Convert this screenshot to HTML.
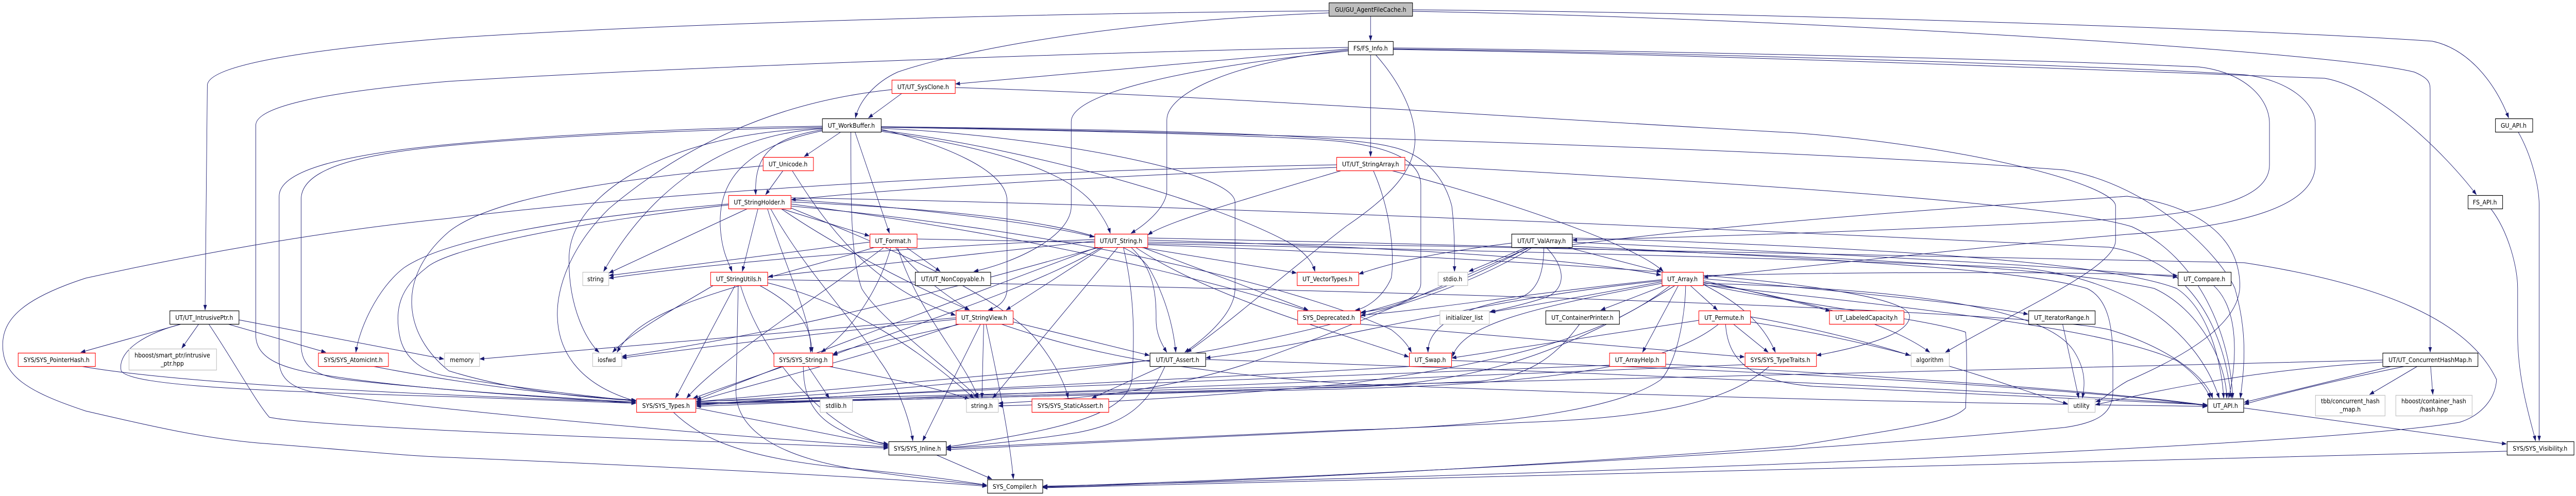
<!DOCTYPE html>
<html><head><meta charset="utf-8"><style>
html,body{margin:0;padding:0;background:#fff;width:100%;height:100%;overflow:hidden;}
svg{display:block;position:absolute;left:0;top:0;width:100vw;height:100vh;}
text{font-family:"DejaVu Sans","Liberation Sans",sans-serif;font-size:12.7px;fill:#000;text-anchor:middle;}
</style></head><body>
<svg viewBox="0 0 5740 963" preserveAspectRatio="none" xmlns="http://www.w3.org/2000/svg">
<defs><marker id="a" markerWidth="11" markerHeight="8" refX="10" refY="3.6" orient="auto" markerUnits="userSpaceOnUse"><path d="M0,0 L10,3.6 L0,7.2 z" fill="#191970" stroke="#191970" stroke-width="0.5"/></marker></defs>
<rect width="5740" height="963" fill="#fff"/>
<g fill="none" stroke="#191970" stroke-width="1" marker-end="url(#a)">
<path d="M3054,31 L3054,79"/>
<path d="M2961,21 C2300,26 1500,45 1000,74 C700,95 462,125 462,166 L457,602"/>
<path d="M2961,25 C2400,45 2100,110 2000,140 C1950,160 1915,195 1906,229"/>
<path d="M3147,19 C4000,25 5100,60 5420,80 C5500,95 5560,160 5590,229"/>
<path d="M3147,22 C4000,35 5200,100 5380,140 C5412,152 5415,160 5415,175 L5415,684"/>
<path d="M3054,106 L3054,304"/>
<path d="M3004,95 L2129,163"/>
<path d="M3004,92 C2500,100 1500,130 1000,158 C700,180 570,210 570,243 L570,651 C570,700 640,715 700,725 C900,755 1200,770 1417,783"/>
<path d="M3004,97 C2750,120 2600,180 2600,233 L2600,369 C2600,405 2545,440 2520,453"/>
<path d="M3004,99 C2650,130 2387,180 2387,236 L2387,400 C2387,460 2260,510 2170,527"/>
<path d="M3065,106 C3120,160 3153,220 3153,270 C3153,330 3100,380 3000,439 C2850,540 2750,620 2645,684"/>
<path d="M3104,96 C3800,105 4800,140 5180,152 C5300,170 5450,300 5518,378"/>
<path d="M3104,93 C3800,100 4600,118 4900,130 C5000,140 5057,190 5057,240 L5057,320 C5057,380 4950,410 4740,424 C4300,445 3800,460 3504,466"/>
<path d="M3104,95 C3800,103 4700,128 5000,145 C5100,155 5159,200 5159,240 L5159,320 C5159,400 5000,440 4740,455 C4400,480 4000,520 3796,538"/>
<path d="M2010,181 L1935,229"/>
<path d="M2128,170 C2700,185 3500,235 4000,258 C4400,285 4714,360 4714,400 L4714,467 C4714,520 4500,600 4335,684"/>
<path d="M1987,174 C1700,200 1500,300 1357,405 C1270,480 1240,560 1242,614 C1244,690 1300,750 1417,779"/>
<path d="M1874,256 L1792,304"/>
<path d="M1832,252 C1720,268 1680,300 1684,378"/>
<path d="M1905,256 L1982,453"/>
<path d="M1832,254 C1660,285 1600,350 1605,440 C1608,490 1625,512 1631,527"/>
<path d="M1832,250 C1600,262 1440,380 1345,527"/>
<path d="M1832,249 C1480,258 1270,380 1268,500 C1266,600 1310,665 1335,684"/>
<path d="M1832,247 C1400,255 1000,275 850,300 C720,320 671,350 671,387 L671,669 C671,710 700,728 760,736 C1000,760 1250,772 1417,781"/>
<path d="M1832,245 C1500,248 1100,268 900,290 C770,305 622,330 622,381 L622,700 C622,740 660,755 702,762 C1000,800 1600,845 1979,868"/>
<path d="M1963,255 C2200,285 2380,330 2440,400 C2460,425 2470,440 2474,453"/>
<path d="M1963,251 C2100,280 2244,330 2244,390 L2244,560 C2244,580 2230,595 2202,602"/>
<path d="M1963,249 C2300,262 2752,330 2752,393 L2752,560 C2752,610 2680,660 2640,684"/>
<path d="M1896,256 C1896,400 1896,500 1920,560 C1960,620 2120,720 2180,773"/>
<path d="M1963,246 C2800,258 4000,290 4600,330 C4800,360 4950,500 4980,560 C5010,650 5000,720 4992,773"/>
<path d="M1963,253 C2300,290 2700,390 2870,470 C2910,490 2925,510 2930,527"/>
<path d="M1963,247 C2500,255 2900,265 3000,276 C3120,290 3166,320 3166,360 L3166,550 C3166,580 3100,600 3033,606"/>
<path d="M1963,246 C2600,252 3000,262 3100,285 C3180,300 3220,350 3235,400 C3242,450 3241,500 3241,527"/>
<path d="M1689,405 L1654,527"/>
<path d="M1740,405 L1937,458"/>
<path d="M1666,405 L1357,530"/>
<path d="M1623,396 C1300,420 1000,460 900,520 C840,560 800,640 793,684"/>
<path d="M1623,398 C1300,430 1000,480 950,520 C890,560 880,600 890,650 C900,700 950,725 1000,731 C1200,760 1350,772 1417,779"/>
<path d="M1710,405 C1750,520 1800,600 1810,684"/>
<path d="M1762,388 C2000,400 2300,430 2438,460"/>
<path d="M1762,392 C2200,410 2500,440 2560,520 C2600,580 2615,640 2620,684"/>
<path d="M1762,384 C2800,400 4200,460 4700,480 C4850,500 4950,600 4972,773"/>
<path d="M1740,405 C1900,500 2100,580 2160,602"/>
<path d="M1717,405 C1790,520 1900,620 1960,700 C2010,760 2030,830 2034,856"/>
<path d="M1760,403 C1950,470 2200,560 2300,650 C2350,700 2375,750 2380,773"/>
<path d="M1762,400 C2400,450 2900,560 3100,640 C3130,660 3140,675 3145,684"/>
<path d="M1762,396 C2500,480 2900,600 3000,627 L3887,693"/>
<path d="M1745,331 L1706,378"/>
<path d="M1765,331 C1850,450 1950,560 2129,612"/>
<path d="M1700,322 C1400,345 1100,380 1000,450 C880,540 900,650 1000,720 C1150,760 1300,772 1417,778"/>
<path d="M2019,480 L2095,527"/>
<path d="M1938,470 L1357,535"/>
<path d="M1950,480 C1800,520 1600,560 1500,600 C1420,630 1390,660 1375,684"/>
<path d="M1995,480 C2050,540 2120,580 2160,602"/>
<path d="M1970,480 C1850,560 1600,700 1530,773"/>
<path d="M2043,464 C3000,480 4000,500 4500,520 C4750,540 4900,650 4945,773"/>
<path d="M1985,480 C1960,560 1900,640 1830,684"/>
<path d="M2000,480 C2040,600 2150,700 2180,773"/>
<path d="M1692,554 C1790,600 1810,640 1806,684"/>
<path d="M1638,554 L1505,773"/>
<path d="M1590,554 C1500,600 1400,650 1365,684"/>
<path d="M1650,554 C1700,700 1850,840 1979,864"/>
<path d="M1645,554 L1640,760 C1640,820 1700,880 1900,910 C2050,930 2150,938 2199,942"/>
<path d="M1710,549 C1900,590 2050,680 2170,773"/>
<path d="M1710,543 C3000,560 4500,600 4700,640 C4850,680 4920,740 4930,773"/>
<path d="M2439,468 C2100,500 1900,520 1712,537"/>
<path d="M2459,480 L2242,602"/>
<path d="M2491,480 L2212,773"/>
<path d="M2520,480 C2570,520 2577,570 2576,620 C2576,650 2590,670 2600,684"/>
<path d="M2503,480 C2525,560 2530,640 2522,740 C2505,800 2400,830 2109,868"/>
<path d="M2540,480 L2889,530"/>
<path d="M2545,480 C2700,530 2850,580 2915,602"/>
<path d="M2439,465 C2000,480 1600,510 1357,540"/>
<path d="M2445,480 C2200,560 1800,690 1552,776"/>
<path d="M2450,480 C2200,540 1800,640 1386,692"/>
<path d="M2455,480 C2300,560 2000,640 1856,690"/>
<path d="M2557,462 C3500,480 4500,500 4800,560 C4900,600 4960,700 4962,773"/>
<path d="M2557,466 C3100,480 3500,500 3701,534"/>
<path d="M2530,480 C2700,580 3000,650 3139,693"/>
<path d="M2557,470 C3500,480 4700,500 5000,510 C5300,550 5500,620 5563,737 C5560,780 5520,810 5480,820 C5200,860 4000,910 2324,944"/>
<path d="M2557,475 C3300,500 3800,530 4000,553 C4150,570 4255,590 4255,614 C4255,640 4200,665 4048,690"/>
<path d="M2192,629 L2188,773"/>
<path d="M2185,629 L2056,856"/>
<path d="M2197,629 C2220,720 2250,850 2258,930"/>
<path d="M2257,625 L2561,690"/>
<path d="M2230,629 C2400,680 2600,720 3000,745 C4000,780 4600,785 4918,789"/>
<path d="M2130,617 L1069,697"/>
<path d="M2130,620 C1900,640 1600,670 1386,695"/>
<path d="M2135,629 C1900,700 1700,740 1552,779"/>
<path d="M2140,629 C2000,660 1900,670 1856,688"/>
<path d="M3491,480 L3702,528"/>
<path d="M3402,480 L3273,527"/>
<path d="M3368,472 C3200,490 3100,510 3028,532"/>
<path d="M3402,482 C3300,530 3200,570 3032,608"/>
<path d="M3445,480 C3490,520 3490,560 3446,577 C3400,590 3360,598 3319,606"/>
<path d="M3440,480 C3440,540 3420,570 3380,580 C3300,590 3180,620 3182,684"/>
<path d="M3410,480 C3200,560 3000,640 2800,700 C2600,760 2400,775 2225,783"/>
<path d="M3415,480 C3250,570 3000,630 2700,680 C2300,740 1800,770 1552,780"/>
<path d="M3503,462 C4200,480 4700,510 4850,560 C4920,600 4950,700 4955,773"/>
<path d="M3503,470 C4000,490 4500,510 4852,538"/>
<path d="M3503,475 C4000,420 4600,390 4740,381 C4900,400 4990,460 4991,555 C4990,620 4900,680 4740,740 C4700,760 4690,775 4670,780"/>
<path d="M3503,478 C4000,500 4500,520 4650,560 C4700,580 4708,640 4708,700 L4708,760 C4708,800 4680,820 4600,830 C4000,880 3000,925 2324,945"/>
<path d="M3710,554 L3567,602"/>
<path d="M3766,554 L3827,602"/>
<path d="M3740,554 L3660,684"/>
<path d="M3795,552 C3880,590 3930,630 3956,684"/>
<path d="M3703,550 C3400,600 3260,630 3236,693"/>
<path d="M3703,547 C3500,580 3400,595 3322,606"/>
<path d="M3703,543 C3400,570 3200,600 3032,612"/>
<path d="M3756,554 C3756,600 3740,700 3701,737 C3600,800 3300,829 3000,835 C2600,850 2300,862 2109,870"/>
<path d="M3733,554 C3500,680 3300,745 3000,752 C2400,765 1900,778 1552,783"/>
<path d="M3722,554 C3600,640 3400,700 3000,745 C2700,770 2400,785 2225,788"/>
<path d="M3795,545 C3900,565 4000,585 4078,604"/>
<path d="M3795,548 C4000,580 4200,620 4300,684"/>
<path d="M3795,541 C4100,565 4400,590 4519,610"/>
<path d="M3795,535 C4300,525 4700,530 4852,535"/>
<path d="M3795,550 C4200,560 4550,590 4620,680 C4650,720 4645,750 4640,773"/>
<path d="M3795,553 C4300,600 4700,640 4850,700 C4900,730 4920,760 4925,773"/>
<path d="M3795,552 C4000,590 4300,620 4380,645 C4385,700 4380,780 4380,792 C4350,820 4250,830 4000,866 C3500,900 2800,935 2324,946"/>
<path d="M3703,545 C3300,580 3000,660 2687,695"/>
<path d="M3785,622 L3235,695"/>
<path d="M3862,629 L3940,684"/>
<path d="M3830,629 C3700,720 3400,745 3000,755 C2400,770 1900,780 1552,785"/>
<path d="M3845,629 C3850,700 3900,740 4040,750 C4400,765 4700,775 4918,786"/>
<path d="M3900,625 C4300,680 4500,760 4607,784"/>
<path d="M3900,615 C4000,630 4150,660 4256,690"/>
<path d="M3520,629 C3460,700 3400,730 3300,740 C2800,760 2000,778 1552,782"/>
<path d="M3586,709 C3000,730 2000,760 1552,785"/>
<path d="M3710,707 C4200,730 4700,760 4918,787"/>
<path d="M3150,711 C2800,730 2000,760 1552,787"/>
<path d="M3234,700 C4000,720 4700,760 4918,788"/>
<path d="M3943,711 C3850,780 3700,810 3400,820 C2900,840 2400,860 2109,873"/>
<path d="M3888,708 C3000,740 2000,770 1552,789"/>
<path d="M2590,711 L2433,773"/>
<path d="M2596,711 C2560,780 2520,820 2400,840 C2250,860 2150,866 2109,870"/>
<path d="M2686,698 C3500,720 4500,760 4918,786"/>
<path d="M2562,700 C2200,730 1800,760 1552,780"/>
<path d="M1747,711 L1545,773"/>
<path d="M1800,711 L1848,773"/>
<path d="M1790,711 C1790,790 1830,840 1979,862"/>
<path d="M1845,711 C1950,730 2080,750 2160,775"/>
<path d="M1550,792 L1979,866"/>
<path d="M1500,800 C1560,850 1650,890 1900,910 C2050,922 2150,935 2199,942"/>
<path d="M2083,882 L2210,930"/>
<path d="M405,629 L180,684"/>
<path d="M443,629 L405,676"/>
<path d="M507,629 L726,684"/>
<path d="M532,621 L989,697"/>
<path d="M405,629 C330,645 260,680 270,720 C290,750 600,760 1000,770 C1200,777 1350,780 1417,783"/>
<path d="M465,629 C520,700 570,780 600,810 C700,830 1500,855 1979,870"/>
<path d="M180,711 C400,745 900,765 1417,781"/>
<path d="M830,711 C1000,740 1200,765 1417,777"/>
<path d="M5387,711 L5280,766"/>
<path d="M5416,711 L5421,766"/>
<path d="M5330,711 L5001,781"/>
<path d="M5360,711 C5200,740 5100,760 5001,785"/>
<path d="M5309,703 C5000,720 4800,760 4669,786"/>
<path d="M5309,699 C4500,710 3000,750 1552,779"/>
<path d="M4932,554 C4990,600 4985,700 4966,773"/>
<path d="M4596,629 L4632,773"/>
<path d="M4999,792 L5585,862"/>
<path d="M5611,256 C5640,300 5658,360 5658,400 L5658,856"/>
<path d="M5550,405 C5590,450 5610,520 5610,560 L5610,650 C5610,740 5640,820 5650,856"/>
<path d="M5586,876 C4500,900 3200,930 2324,947"/>
<path d="M2978,325 C2500,340 2000,365 1763,388"/>
<path d="M2978,320 C2300,330 1500,370 1000,424 C700,450 400,500 191,540 C50,580 6,620 6,670 C6,730 60,760 191,798 C350,830 450,850 574,860 C800,875 900,885 1000,888 C1600,910 2000,930 2199,944"/>
<path d="M3060,331 C3105,420 3106,510 3100,540 C3080,580 3040,600 3020,602"/>
<path d="M3100,331 C3400,400 3650,480 3706,527"/>
<path d="M3130,320 C4000,360 4600,400 4750,440 C4900,500 4970,650 4975,773"/>
<path d="M2990,331 C2800,380 2600,430 2558,456"/>
</g>
<g stroke-width="1.2">
<rect x="2961.5" y="5.5" width="186" height="26" fill="#bfbfbf" stroke="#000"/>
<rect x="3004.5" y="80.5" width="100" height="26" fill="#fff" stroke="#000"/>
<rect x="1987.5" y="155.5" width="141" height="26" fill="#fff" stroke="#f00"/>
<rect x="1832.5" y="230.5" width="131" height="26" fill="#fff" stroke="#000"/>
<rect x="5560.5" y="230.5" width="83" height="26" fill="#fff" stroke="#000"/>
<rect x="2978.5" y="305.5" width="152" height="26" fill="#fff" stroke="#f00"/>
<rect x="1700.5" y="305.5" width="112" height="26" fill="#fff" stroke="#f00"/>
<rect x="5499.5" y="379.5" width="77" height="26" fill="#fff" stroke="#000"/>
<rect x="1623.5" y="379.5" width="139" height="26" fill="#fff" stroke="#f00"/>
<rect x="1938.5" y="454.5" width="105" height="26" fill="#fff" stroke="#f00"/>
<rect x="2439.5" y="454.5" width="118" height="26" fill="#fff" stroke="#f00"/>
<rect x="3368.5" y="454.5" width="135" height="26" fill="#fff" stroke="#000"/>
<rect x="1298.5" y="528.5" width="58" height="26" fill="#fff" stroke="#bfbfbf"/>
<rect x="1583.5" y="528.5" width="127" height="26" fill="#fff" stroke="#f00"/>
<rect x="2039.5" y="528.5" width="168" height="26" fill="#fff" stroke="#000"/>
<rect x="2890.5" y="528.5" width="137" height="26" fill="#fff" stroke="#f00"/>
<rect x="3204.5" y="528.5" width="66" height="26" fill="#fff" stroke="#bfbfbf"/>
<rect x="3703.5" y="528.5" width="92" height="26" fill="#fff" stroke="#f00"/>
<rect x="4853.5" y="528.5" width="118" height="26" fill="#fff" stroke="#000"/>
<rect x="378.5" y="603.5" width="154" height="26" fill="#fff" stroke="#000"/>
<rect x="2130.5" y="603.5" width="127" height="26" fill="#fff" stroke="#f00"/>
<rect x="2891.5" y="603.5" width="140" height="26" fill="#fff" stroke="#f00"/>
<rect x="3208.5" y="603.5" width="110" height="26" fill="#fff" stroke="#bfbfbf"/>
<rect x="3444.5" y="603.5" width="164" height="26" fill="#fff" stroke="#000"/>
<rect x="3785.5" y="603.5" width="115" height="26" fill="#fff" stroke="#f00"/>
<rect x="4076.5" y="603.5" width="166" height="26" fill="#fff" stroke="#f00"/>
<rect x="4520.5" y="603.5" width="148" height="26" fill="#fff" stroke="#000"/>
<rect x="40.5" y="685.5" width="172" height="26" fill="#fff" stroke="#f00"/>
<rect x="287.5" y="677.5" width="195" height="41" fill="#fff" stroke="#bfbfbf"/>
<rect x="709.5" y="685.5" width="156" height="26" fill="#fff" stroke="#f00"/>
<rect x="990.5" y="685.5" width="78" height="26" fill="#fff" stroke="#bfbfbf"/>
<rect x="1320.5" y="685.5" width="65" height="26" fill="#fff" stroke="#bfbfbf"/>
<rect x="1724.5" y="685.5" width="131" height="26" fill="#fff" stroke="#f00"/>
<rect x="2562.5" y="685.5" width="124" height="26" fill="#fff" stroke="#000"/>
<rect x="3140.5" y="685.5" width="94" height="26" fill="#fff" stroke="#f00"/>
<rect x="3586.5" y="685.5" width="125" height="26" fill="#fff" stroke="#f00"/>
<rect x="3888.5" y="685.5" width="159" height="26" fill="#fff" stroke="#f00"/>
<rect x="4258.5" y="685.5" width="85" height="26" fill="#fff" stroke="#bfbfbf"/>
<rect x="5309.5" y="685.5" width="212" height="26" fill="#fff" stroke="#000"/>
<rect x="1418.5" y="774.5" width="132" height="26" fill="#fff" stroke="#f00"/>
<rect x="1827.5" y="774.5" width="72" height="26" fill="#fff" stroke="#bfbfbf"/>
<rect x="2153.5" y="774.5" width="71" height="26" fill="#fff" stroke="#bfbfbf"/>
<rect x="2299.5" y="774.5" width="171" height="26" fill="#fff" stroke="#f00"/>
<rect x="4608.5" y="774.5" width="60" height="26" fill="#fff" stroke="#bfbfbf"/>
<rect x="4919.5" y="774.5" width="80" height="26" fill="#fff" stroke="#000"/>
<rect x="5159.5" y="767.5" width="155" height="40" fill="#fff" stroke="#bfbfbf"/>
<rect x="5338.5" y="767.5" width="170" height="40" fill="#fff" stroke="#bfbfbf"/>
<rect x="1980.5" y="857.5" width="128" height="26" fill="#fff" stroke="#000"/>
<rect x="5586.5" y="857.5" width="149" height="26" fill="#fff" stroke="#000"/>
<rect x="2200.5" y="931.5" width="123" height="26" fill="#fff" stroke="#000"/>
</g>
<g>
<text x="3054" y="23">GU/GU_AgentFileCache.h</text>
<text x="3054" y="98">FS/FS_Info.h</text>
<text x="2057" y="173">UT/UT_SysClone.h</text>
<text x="1897" y="248">UT_WorkBuffer.h</text>
<text x="5601" y="248">GU_API.h</text>
<text x="3054" y="323">UT/UT_StringArray.h</text>
<text x="1756" y="323">UT_Unicode.h</text>
<text x="5537" y="397">FS_API.h</text>
<text x="1692" y="397">UT_StringHolder.h</text>
<text x="1990" y="472">UT_Format.h</text>
<text x="2498" y="472">UT/UT_String.h</text>
<text x="3435" y="472">UT/UT_ValArray.h</text>
<text x="1327" y="546">string</text>
<text x="1646" y="546">UT_StringUtils.h</text>
<text x="2123" y="546">UT/UT_NonCopyable.h</text>
<text x="2958" y="546">UT_VectorTypes.h</text>
<text x="3237" y="546">stdio.h</text>
<text x="3749" y="546">UT_Array.h</text>
<text x="4912" y="546">UT_Compare.h</text>
<text x="455" y="621">UT/UT_IntrusivePtr.h</text>
<text x="2193" y="621">UT_StringView.h</text>
<text x="2961" y="621">SYS_Deprecated.h</text>
<text x="3263" y="621">initializer_list</text>
<text x="3526" y="621">UT_ContainerPrinter.h</text>
<text x="3842" y="621">UT_Permute.h</text>
<text x="4159" y="621">UT_LabeledCapacity.h</text>
<text x="4594" y="621">UT_IteratorRange.h</text>
<text x="126" y="703">SYS/SYS_PointerHash.h</text>
<text x="384" y="694">hboost/smart_ptr/intrusive</text>
<text x="384" y="710">_ptr.hpp</text>
<text x="787" y="703">SYS/SYS_AtomicInt.h</text>
<text x="1029" y="703">memory</text>
<text x="1352" y="703">iosfwd</text>
<text x="1790" y="703">SYS/SYS_String.h</text>
<text x="2624" y="703">UT/UT_Assert.h</text>
<text x="3187" y="703">UT_Swap.h</text>
<text x="3648" y="703">UT_ArrayHelp.h</text>
<text x="3967" y="703">SYS/SYS_TypeTraits.h</text>
<text x="4300" y="703">algorithm</text>
<text x="5415" y="703">UT/UT_ConcurrentHashMap.h</text>
<text x="1484" y="792">SYS/SYS_Types.h</text>
<text x="1863" y="792">stdlib.h</text>
<text x="2188" y="792">string.h</text>
<text x="2385" y="792">SYS/SYS_StaticAssert.h</text>
<text x="4638" y="792">utility</text>
<text x="4959" y="792">UT_API.h</text>
<text x="5237" y="783">tbb/concurrent_hash</text>
<text x="5237" y="799">_map.h</text>
<text x="5423" y="783">hboost/container_hash</text>
<text x="5423" y="799">/hash.hpp</text>
<text x="2044" y="875">SYS/SYS_Inline.h</text>
<text x="5660" y="875">SYS/SYS_Visibility.h</text>
<text x="2261" y="949">SYS_Compiler.h</text>
</g>
</svg>
</body></html>
